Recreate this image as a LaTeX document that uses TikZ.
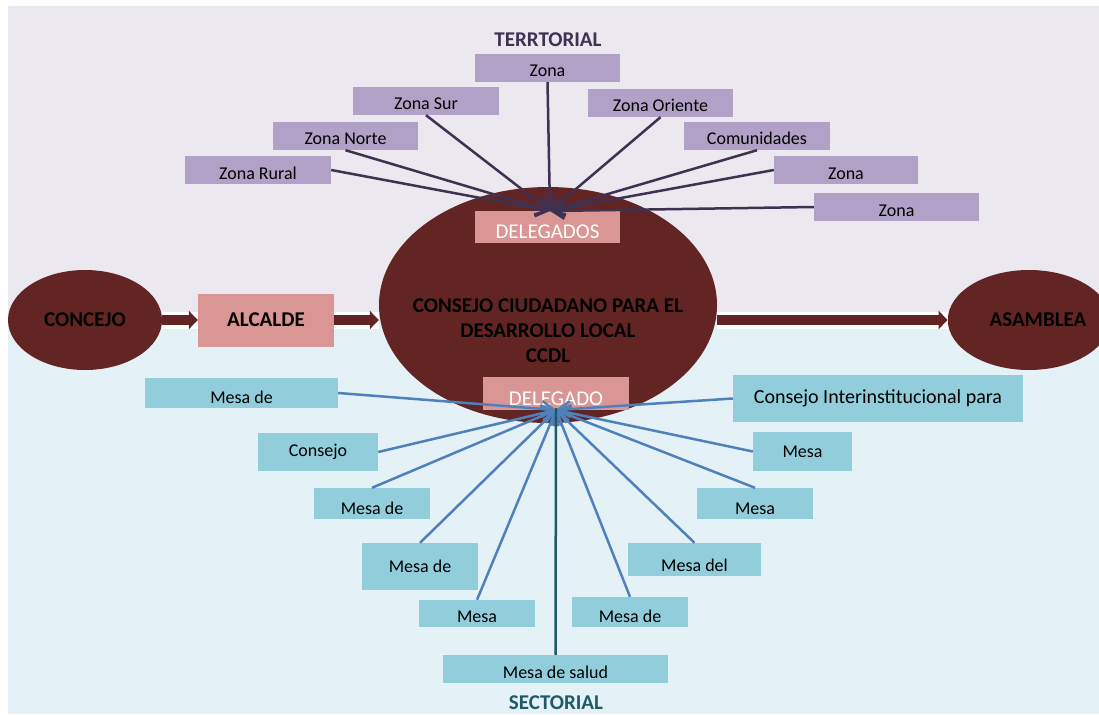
\documentclass[tikz,border=0pt]{standalone}
\usepackage{fontspec}
\setmainfont{Carlito}
\usetikzlibrary{arrows.meta}
\usetikzlibrary{shapes.geometric}

\definecolor{terrbg}{RGB}{235,232,240}
\definecolor{sectbg}{RGB}{228,241,246}
\definecolor{zonafill}{RGB}{178,161,199}
\definecolor{mesafill}{RGB}{146,205,220}
\definecolor{delegfill}{RGB}{217,150,148}
\definecolor{ccdlred}{RGB}{99,37,35}
\definecolor{terrline}{RGB}{63,49,81}
\definecolor{sectline}{RGB}{79,129,189}
\definecolor{saludline}{RGB}{33,89,104}

\tikzset{
  box/.style 2 args={rectangle, inner sep=0pt, minimum width=#1, minimum height=#2},
  low/.style={text height=#1, text depth=5pt},
  zona/.style={fill=zonafill, font=\fontsize{18}{21}\selectfont},
  mesa/.style={fill=mesafill, font=\fontsize{18}{21}\selectfont},
  deleg/.style={fill=delegfill, text=white, font=\fontsize{21}{24}\selectfont},
  oval/.style={ellipse, fill=ccdlred, inner sep=0pt, font=\fontsize{21}{25}\selectfont\bfseries},
  title/.style={font=\fontsize{21}{24}\selectfont\bfseries},
  terr/.style={draw=terrline, line width=2.5pt, -{Straight Barb[length=12pt, width=16pt]}},
  sect/.style={draw=sectline, line width=2.5pt, -{Straight Barb[length=12pt, width=16pt]}},
  flowback/.style={draw=white, line width=17pt},
  flow/.style={draw=ccdlred, line width=10pt, -{Triangle[length=9pt, width=18pt]}}
}

\begin{document}
\begin{tikzpicture}[x=1pt, y=-1pt]
  \useasboundingbox (0,0) rectangle (1099,714);
  % background bands
  \fill[terrbg] (8,6) rectangle (1099,322);
  \fill[sectbg] (8,322) rectangle (1099,714);

  % main flow
  \node[oval, minimum width=154pt, minimum height=100pt] (concejo) at (85,320) {CONCEJO};
  \node[box={136pt}{53pt}, fill=delegfill, font=\fontsize{21}{25}\selectfont\bfseries] (alcalde) at (266,320) {ALCALDE};
  \node[oval, minimum width=338pt, minimum height=236pt] (ccdl) at (548,305) {};
  \node[oval, minimum width=140pt, minimum height=100pt] (asamblea) at (1029,320) {\hspace{18pt}ASAMBLEA};
  \node[font=\fontsize{21}{25}\selectfont\bfseries, align=center] (ccdltext) at (548,331)
    {CONSEJO CIUDADANO PARA EL\\DESARROLLO LOCAL\\CCDL};

  \draw[flowback] (concejo.east) -- (alcalde.west);
  \draw[flow] (concejo.east) -- (alcalde.west);
  \draw[flowback] (alcalde.east) -- (alcalde.east -| ccdl.west);
  \draw[flow] (alcalde.east) -- (alcalde.east -| ccdl.west);
  \draw[flowback] (ccdl.east |- asamblea.west) -- (asamblea.west);
  \draw[flow] (ccdl.east |- asamblea.west) -- (asamblea.west);

  \node[box={145pt}{32pt}, low=27pt, deleg] (delegT) at (547.5,227) {DELEGADOS};
  \node[box={146pt}{33pt}, low=28pt, deleg] (delegS) at (556,393.5) {DELEGADO};

  % territorial
  \node[title, text=terrline] (terrtitle) at (548,40) {TERRTORIAL};
  \node[box={145pt}{28pt}, low=23pt, zona] (zonaC) at (547.5,68) {Zona};
  \node[box={146pt}{28pt}, low=23pt, zona] (zonaSur) at (426,101) {Zona Sur};
  \node[box={145pt}{28pt}, low=23pt, zona] (zonaOriente) at (660.5,103) {Zona Oriente};
  \node[box={145pt}{28pt}, low=23pt, zona] (zonaNorte) at (345.5,136) {Zona Norte};
  \node[box={146pt}{28pt}, low=23pt, zona] (comunidades) at (757,136) {Comunidades};
  \node[box={146pt}{28pt}, low=23pt, zona] (zonaRural) at (258,170) {Zona Rural};
  \node[box={144pt}{28pt}, low=23pt, zona] (zonaE1) at (846,170) {Zona};
  \node[box={165pt}{28pt}, low=23pt, zona] (zonaE2) at (896.5,207) {Zona};

  \coordinate (tipT) at (550,211);
  \foreach \z/\a in {zonaC/south, zonaSur/south, zonaOriente/south, zonaNorte/south,
                     comunidades/south, zonaRural/east, zonaE1/west, zonaE2/west}
    \draw[terr] (\z.\a) -- (tipT);

  % sectorial
  \node[box={193pt}{30pt}, low=25pt, mesa] (mesaA) at (241.5,393) {Mesa de};
  \node[box={120pt}{38pt}, mesa] (consejo) at (318,452) {Consejo};
  \node[box={116pt}{31pt}, low=26pt, mesa] (mesaB) at (372,503.5) {Mesa de};
  \node[box={116pt}{47pt}, mesa] (mesaC) at (420,566.5) {Mesa de};
  \node[box={116pt}{27pt}, low=22pt, mesa] (mesaD) at (477,613.5) {Mesa};
  \node[box={225pt}{28pt}, low=23pt, mesa] (mesaSalud) at (555.5,669) {Mesa de salud};
  \node[box={116pt}{30pt}, low=25pt, mesa] (mesaE) at (630,612) {Mesa de};
  \node[box={133pt}{33pt}, low=28pt, mesa] (mesaDel) at (694.5,559.5) {Mesa del};
  \node[box={116pt}{31pt}, low=26pt, mesa] (mesaF) at (755,503.5) {Mesa};
  \node[box={99pt}{39pt}, mesa] (mesaG) at (802.5,451.5) {Mesa};
  \node[box={290pt}{47pt}, mesa, font=\fontsize{20}{23}\selectfont] (interinst) at (878,398.5) {Consejo Interinstitucional para};
  \node[title, text=saludline] (secttitle) at (556,703) {SECTORIAL};

  \coordinate (tipS) at (556,410);
  \foreach \m/\a in {mesaA/east, consejo/east, mesaB/north, mesaC/north, mesaD/north,
                     mesaE/north, mesaDel/north, mesaF/north, mesaG/west, interinst/west}
    \draw[sect] (\m.\a) -- (tipS);
  \draw[draw=saludline, line width=2.5pt] (mesaSalud.north) -- ([yshift=2pt]tipS);
\end{tikzpicture}
\end{document}
